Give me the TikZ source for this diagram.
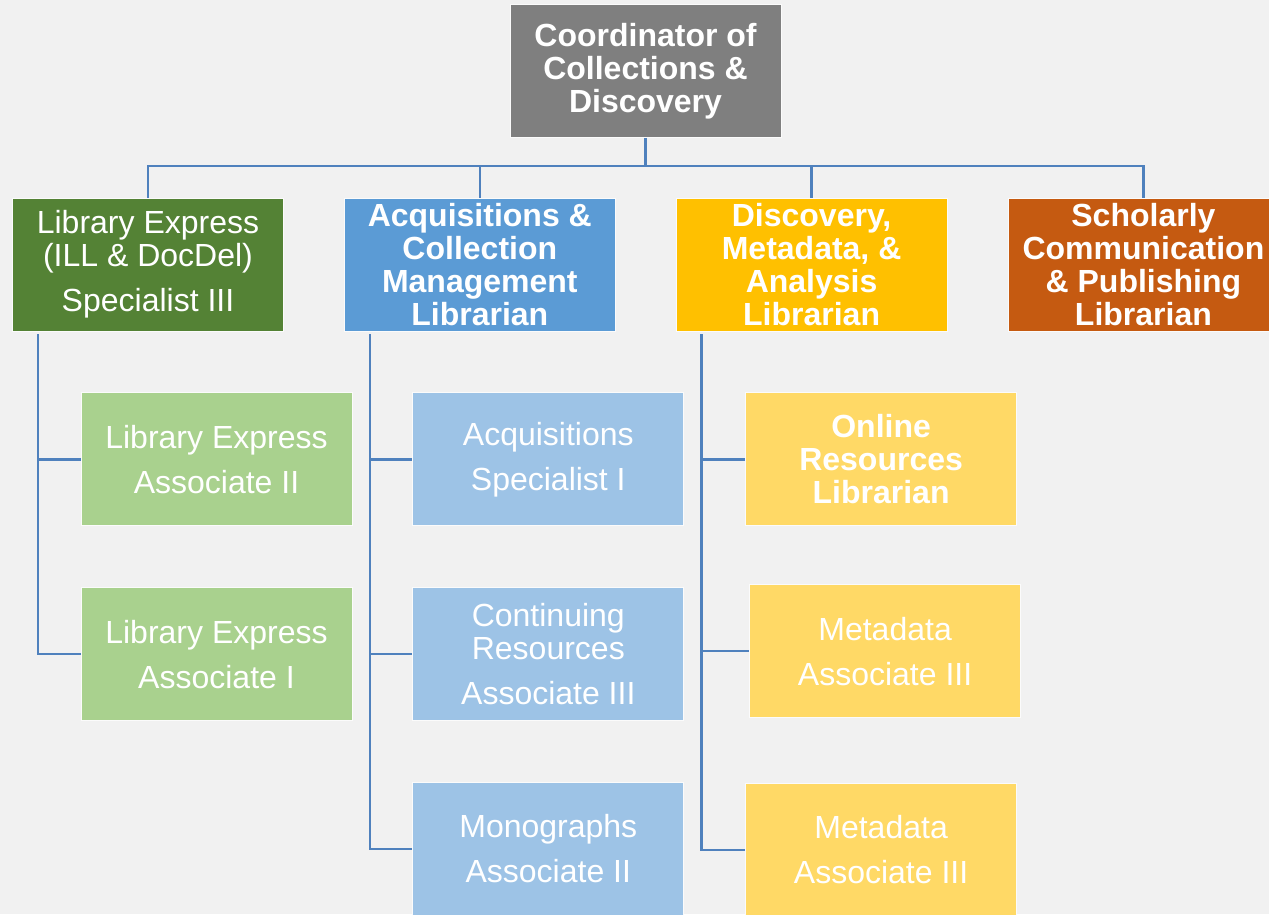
\documentclass[tikz,border=0pt]{standalone}
\usepackage{fontspec}
\setmainfont{Liberation Sans}
\usetikzlibrary{positioning,calc}

\definecolor{pagebg}{HTML}{F1F1F1}
\definecolor{headgray}{HTML}{7F7F7F}
\definecolor{lexgreen}{HTML}{548235}
\definecolor{acqblue}{HTML}{5B9BD5}
\definecolor{discgold}{HTML}{FFC000}
\definecolor{scholorange}{HTML}{C55A11}
\definecolor{lexlight}{HTML}{A9D18E}
\definecolor{acqlight}{HTML}{9DC3E6}
\definecolor{disclight}{HTML}{FFD966}
\definecolor{linkblue}{HTML}{4F81BD}

\begin{document}
\begin{tikzpicture}[
  x=1pt, y=1pt,
  node distance=61pt and 60pt,
  box/.style={minimum width=271pt, minimum height=133pt, inner sep=0pt,
              align=center, text=white, draw=white!70!pagebg, line width=0.8pt,
              font=\fontsize{32}{33}\selectfont},
  lead/.style={box, font=\fontsize{32}{33}\selectfont\bfseries},
  link/.style={draw=linkblue, line width=2.6pt}
]

% page
\fill[pagebg] (0,0) rectangle (1269,-914);
\useasboundingbox (0,0) rectangle (1269,-914);

% coordinator
\node[lead, fill=headgray] (coord) at (645.5,-71) {Coordinator of\\Collections \&\\Discovery};

% first row
\node[box, fill=lexgreen] (lex) at (148,-264.5) {Library Express\\(ILL \& DocDel)\\[12pt]Specialist III};
\node[lead, fill=acqblue, right=of lex] (acq) {Acquisitions \&\\Collection\\Management\\Librarian};
\node[lead, fill=discgold, right=of acq] (disc) {Discovery,\\Metadata, \&\\Analysis\\Librarian};
\node[lead, fill=scholorange, right=of disc] (schol) {Scholarly\\Communication\\\& Publishing\\Librarian};

% library express staff
\node[box, fill=lexlight, below=of lex, xshift=68.5pt] (lexa) {Library Express\\[12pt]Associate II};
\node[box, fill=lexlight, below=of lexa] (lexb) {Library Express\\[12pt]Associate I};

% acquisitions staff
\node[box, fill=acqlight, below=of acq, xshift=68.5pt] (acqa) {Acquisitions\\[12pt]Specialist I};
\node[box, fill=acqlight, below=of acqa] (acqb) {Continuing\\Resources\\[12pt]Associate III};
\node[box, fill=acqlight, below=of acqb] (acqc) {Monographs\\[12pt]Associate II};

% discovery staff
\node[lead, fill=disclight, below=of disc, xshift=69.5pt] (disca) {Online\\Resources\\Librarian};
\node[box, fill=disclight, below=58pt of disca, xshift=4pt] (discb) {Metadata\\[12pt]Associate III};
\node[box, fill=disclight, below=65pt of discb, xshift=-4pt] (discc) {Metadata\\[12pt]Associate III};

% top bus
\coordinate (bus) at ($(coord.south)+(0,-28)$);
\draw[link] (coord.south) -- (bus);
\foreach \n in {lex,acq,disc,schol}
  \draw[link] (bus) -| (\n.north);

% side rails
\draw[link] ($(lex.south west)+(26,-3)$) |- (lexa.west);
\draw[link] ($(lex.south west)+(26,-3)$) |- (lexb.west);
\draw[link] ($(acq.south west)+(26,-3)$) |- (acqa.west);
\draw[link] ($(acq.south west)+(26,-3)$) |- (acqb.west);
\draw[link] ($(acq.south west)+(26,-3)$) |- (acqc.west);
\draw[link] ($(disc.south west)+(26,-3)$) |- (disca.west);
\draw[link] ($(disc.south west)+(26,-3)$) |- (discb.west);
\draw[link] ($(disc.south west)+(26,-3)$) |- (discc.west);

\end{tikzpicture}
\end{document}
